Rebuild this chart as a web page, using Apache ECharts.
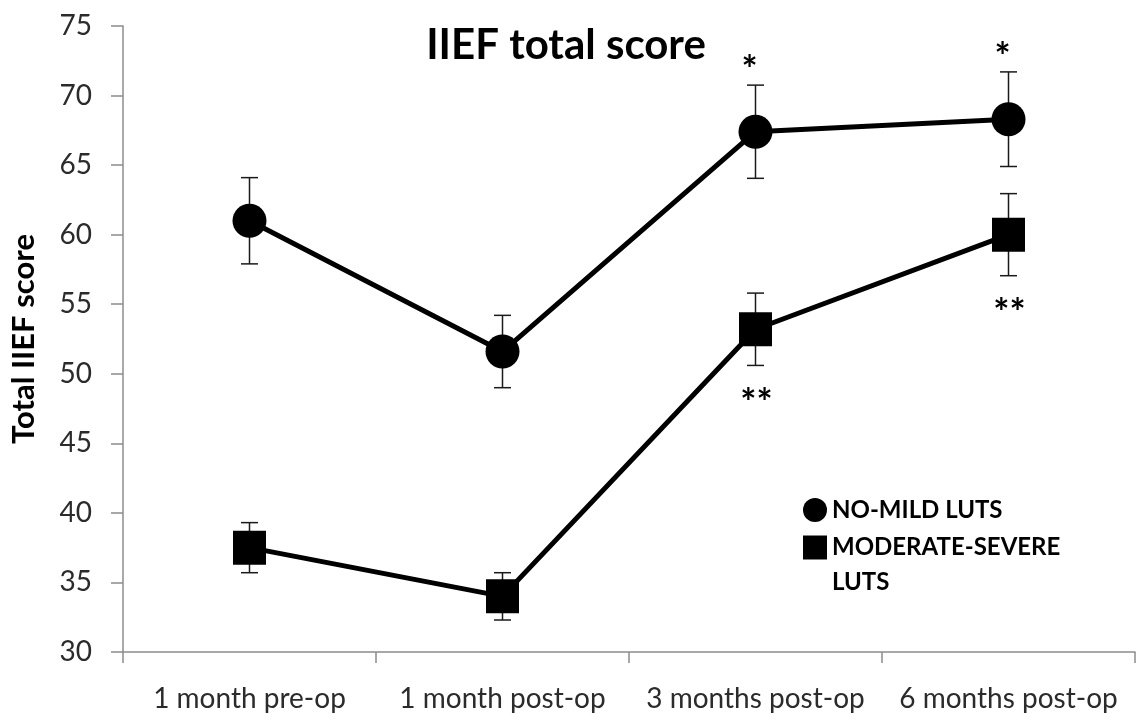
<!DOCTYPE html>
<html>
<head>
<meta charset="utf-8">
<script src="https://cdn.jsdelivr.net/npm/echarts@6/dist/echarts.min.js"></script>
<style>
html,body{margin:0;padding:0;background:#fff;}
#chart{width:1142px;height:720px;}
</style>
</head>
<body>
<div id="chart"></div>
<script>
var categories = ['1 month pre-op', '1 month post-op', '3 months post-op', '6 months post-op'];
var noMildMean = [61.0, 51.6, 67.4, 68.3];
var noMildErr = [3.1, 2.6, 3.35, 3.4];
var noMildSig = ['', '', '*', '*'];
var modSevMean = [37.5, 34.0, 53.2, 60.0];
var modSevErr = [1.8, 1.7, 2.6, 2.95];
var modSevSig = ['', '', '**', '**'];
var yTicks = [30, 35, 40, 45, 50, 55, 60, 65, 70, 75];

var FONT = 'Lato';

function errData(means, errs) {
  return means.map(function (m, i) { return [i, m, errs[i]]; });
}

function errRender(sigs, above) {
  return function (params, api) {
    var i = api.value(0), m = api.value(1), e = api.value(2);
    var hi = api.coord([i, m + e]);
    var lo = api.coord([i, m - e]);
    var cw = 8.5;
    var st = { stroke: '#1a1a1a', lineWidth: 1.5 };
    var children = [
      { type: 'line', shape: { x1: hi[0], y1: hi[1], x2: lo[0], y2: lo[1] }, style: st },
      { type: 'line', shape: { x1: hi[0] - cw, y1: hi[1], x2: hi[0] + cw, y2: hi[1] }, style: st },
      { type: 'line', shape: { x1: lo[0] - cw, y1: lo[1], x2: lo[0] + cw, y2: lo[1] }, style: st }
    ];
    var s = sigs[params.dataIndex];
    if (s) {
      children.push({
        type: 'text',
        x: above ? hi[0] - 6 : lo[0] + 1,
        y: above ? hi[1] - 14 : lo[1] + 38,
        style: {
          text: s, fill: '#000', font: 'bold 38px ' + FONT,
          align: 'center', verticalAlign: 'middle'
        }
      });
    }
    return { type: 'group', children: children };
  };
}

var chart = echarts.init(document.getElementById('chart'), null, { renderer: 'canvas' });
chart.setOption({
  animation: false,
  backgroundColor: '#fff',
  title: {
    text: 'IIEF total score',
    left: 561, top: 19, textAlign: 'center',
    textStyle: { fontFamily: FONT, fontWeight: 'bold', fontSize: 42, color: '#000' }
  },
  grid: { left: 120, right: 7, top: 26, bottom: 68 },
  legend: [
    {
      data: [{ name: 'NO-MILD LUTS', icon: 'circle' }],
      orient: 'vertical', left: 803, top: 498, padding: 0,
      itemWidth: 24, itemHeight: 24, itemGap: 0, textGap: 2,
      selectedMode: false,
      textStyle: { fontFamily: FONT, fontWeight: 'bold', fontSize: 24, color: '#000' }
    },
    {
      data: [{ name: 'MODERATE-SEVERE LUTS', icon: 'rect' }],
      orient: 'vertical', left: 803, top: 495, padding: 0,
      itemWidth: 24, itemHeight: 24, itemGap: 0, textGap: 2,
      selectedMode: false,
      formatter: function (n) { return '\u00a0\n' + n.replace(' LUTS', '\nLUTS'); },
      textStyle: { fontFamily: FONT, fontWeight: 'bold', fontSize: 24, color: '#000',
        lineHeight: 35 }
    }
  ],
  xAxis: {
    type: 'category',
    data: categories,
    boundaryGap: true,
    axisLine: { lineStyle: { color: '#8c8c8c', width: 1.5 } },
    axisTick: { show: true, length: 11, interval: 0, alignWithLabel: false, lineStyle: { color: '#8c8c8c', width: 1.5 } },
    axisLabel: { interval: 0, fontFamily: FONT, fontSize: 28, color: '#2b2b2b', margin: 33 }
  },
  yAxis: {
    type: 'value',
    min: yTicks[0], max: yTicks[yTicks.length - 1], interval: 5,
    name: 'Total IIEF score',
    nameLocation: 'middle', nameRotate: 90, nameGap: 84,
    nameTextStyle: { fontFamily: FONT, fontWeight: 'bold', fontSize: 31, color: '#000' },
    splitLine: { show: false },
    axisLine: { show: true, lineStyle: { color: '#8c8c8c', width: 1.5 } },
    axisTick: { show: true, length: 12, lineStyle: { color: '#8c8c8c', width: 1.5 } },
    axisLabel: { fontFamily: FONT, fontSize: 28, color: '#2b2b2b', margin: 31 }
  },
  series: [
    {
      type: 'custom', name: 'errNoMild', z: 1,
      renderItem: errRender(noMildSig, true),
      data: errData(noMildMean, noMildErr),
      silent: true
    },
    {
      type: 'custom', name: 'errModSev', z: 1,
      renderItem: errRender(modSevSig, false),
      data: errData(modSevMean, modSevErr),
      silent: true
    },
    {
      type: 'line', name: 'NO-MILD LUTS', z: 3,
      data: noMildMean,
      symbol: 'circle', symbolSize: 34,
      itemStyle: { color: '#000' },
      lineStyle: { color: '#000', width: 5 }
    },
    {
      type: 'line', name: 'MODERATE-SEVERE LUTS', z: 3,
      data: modSevMean,
      symbol: 'rect', symbolSize: [33, 34],
      itemStyle: { color: '#000' },
      lineStyle: { color: '#000', width: 5 }
    }
  ]
});
</script>
</body>
</html>
